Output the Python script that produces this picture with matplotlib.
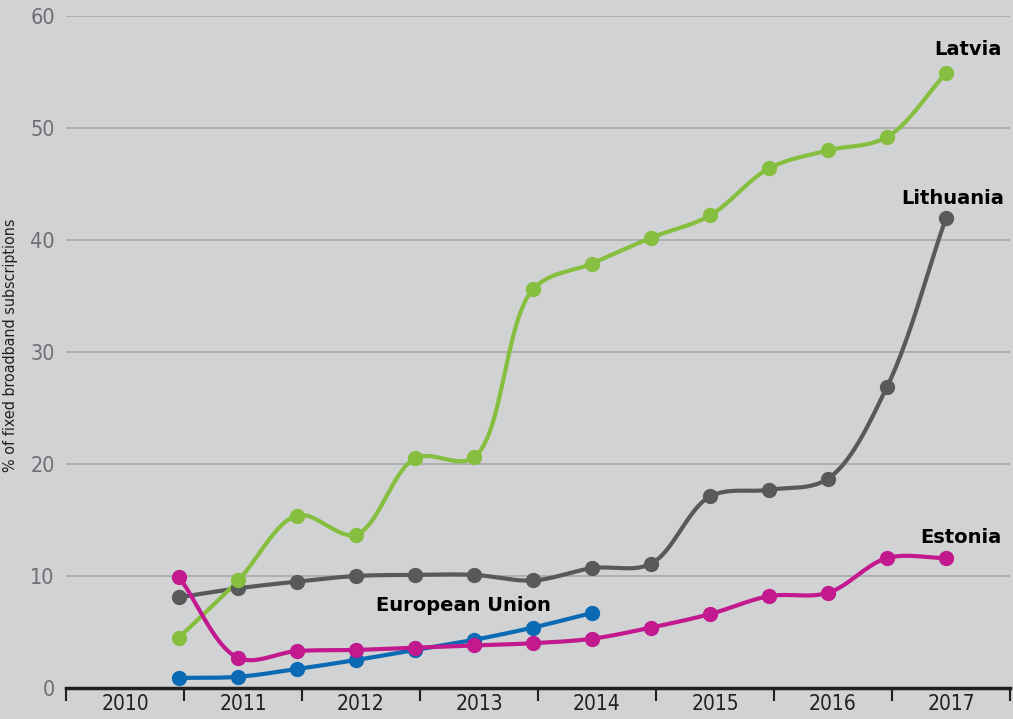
import numpy as np
import matplotlib
matplotlib.use('Agg')
import matplotlib.pyplot as plt

# half-yearly observations (June / December), Dec 2010 .. Jun 2017
periods = ['2010-12', '2011-06', '2011-12', '2012-06', '2012-12', '2013-06', '2013-12',
           '2014-06', '2014-12', '2015-06', '2015-12', '2016-06', '2016-12', '2017-06']
latvia = [4.5, 9.6, 15.4, 13.7, 20.5, 20.6, 35.6, 37.9, 40.2, 42.2, 46.4, 48.0, 49.2, 54.9]
lithuania = [8.1, 8.9, 9.5, 10.0, 10.1, 10.1, 9.6, 10.7, 11.1, 17.1, 17.7, 18.7, 26.9, 42.0]
estonia = [9.9, 2.7, 3.3, 3.4, 3.6, 3.8, 4.0, 4.4, 5.4, 6.6, 8.2, 8.5, 11.6, 11.6]
eu = [0.9, 1.0, 1.7, 2.5, 3.4, 4.3, 5.4, 6.7]
years = [2010, 2011, 2012, 2013, 2014, 2015, 2016, 2017]
yticks = [0, 10, 20, 30, 40, 50, 60]

bg = '#d1d2d4'
cond = dict(family='DejaVu Sans', stretch='condensed')

# rough pixel sizes of one data unit, used only to shape the smoothed lines
XPX, YPX = 118.0, 11.2


def to_x(p):
    y, m = p.split('-')
    return int(y) + (int(m) - 0.5) / 12.0


def smooth(x, y, n=24, alpha=0.5):
    # centripetal Catmull-Rom through the points, computed in pixel space
    P = np.column_stack([np.asarray(x, float) * XPX, np.asarray(y, float) * YPX])
    P = np.vstack([2 * P[0] - P[1], P, 2 * P[-1] - P[-2]])
    out = []
    for i in range(1, len(P) - 2):
        p0, p1, p2, p3 = P[i - 1], P[i], P[i + 1], P[i + 2]
        t0 = 0.0
        t1 = t0 + np.linalg.norm(p1 - p0) ** alpha
        t2 = t1 + np.linalg.norm(p2 - p1) ** alpha
        t3 = t2 + np.linalg.norm(p3 - p2) ** alpha
        t = np.linspace(t1, t2, n)[:, None]
        a1 = (t1 - t) / (t1 - t0) * p0 + (t - t0) / (t1 - t0) * p1
        a2 = (t2 - t) / (t2 - t1) * p1 + (t - t1) / (t2 - t1) * p2
        a3 = (t3 - t) / (t3 - t2) * p2 + (t - t2) / (t3 - t2) * p3
        b1 = (t2 - t) / (t2 - t0) * a1 + (t - t0) / (t2 - t0) * a2
        b2 = (t3 - t) / (t3 - t1) * a2 + (t - t1) / (t3 - t1) * a3
        out.append((t2 - t) / (t2 - t1) * b1 + (t - t1) / (t2 - t1) * b2)
    out = np.vstack(out)
    return out[:, 0] / XPX, out[:, 1] / YPX


xs = [to_x(p) for p in periods]

fig = plt.figure(figsize=(10.13, 7.19), dpi=100, facecolor=bg)
ax = fig.add_axes([66 / 1013, 1 - 688 / 719, 944 / 1013, 672 / 719])
ax.set_facecolor(bg)

series = [
    (lithuania, '#58595b'),
    (latvia, '#86bf40'),
    (eu, '#0b6ab4'),
    (estonia, '#c2198f'),
]
for vals, col in series:
    xx = xs[:len(vals)]
    sx, sy = smooth(xx, vals)
    ax.plot(sx, sy, color=col, lw=3.0, solid_capstyle='round', zorder=3)
    ax.plot(xx, vals, 'o', color=col, ms=10, zorder=4)

ax.set_xlim(2010, 2018)
ax.set_ylim(0, 60)
for v in yticks[1:]:
    ax.axhline(v, color='#a6a8ab', lw=1.2, zorder=1)

ax.set_yticks(yticks)
ax.set_yticklabels([str(v) for v in yticks], fontsize=15.5, color='#6d6e71', **cond)
ax.tick_params(axis='y', length=0, pad=8)

ax.set_xticks(range(2010, 2019))
ax.set_xticklabels([])
ax.set_xticks([y + 0.5 for y in years], minor=True)
ax.set_xticklabels([str(y) for y in years], minor=True, fontsize=15, color='#231f20', **cond)
ax.tick_params(axis='x', which='major', length=9, width=1.5, color='#231f20', direction='out')
ax.tick_params(axis='x', which='minor', length=0, pad=4)

for s in ['top', 'right', 'left']:
    ax.spines[s].set_visible(False)
ax.spines['bottom'].set_linewidth(2.5)
ax.spines['bottom'].set_color('#231f20')

ax.set_ylabel('% of fixed broadband subscriptions', fontsize=11.5, color='#231f20',
              labelpad=8, **cond)
ax.yaxis.set_label_coords(-0.051, 0.51)

lab = dict(fontsize=14, fontweight='bold', color='black', zorder=5)
ax.text(2017.93, latvia[-1] + 1.3, 'Latvia', ha='right', va='bottom', **lab)
ax.text(2017.95, lithuania[-1] + 0.9, 'Lithuania', ha='right', va='bottom', **lab)
ax.text(2017.93, estonia[-1] + 1.0, 'Estonia', ha='right', va='bottom', **lab)
ax.text(2013.37, eu[-1] - 0.2, 'European Union', ha='center', va='bottom', **lab)

plt.savefig('out.png', dpi=100, facecolor=bg)
plt.close(fig)
